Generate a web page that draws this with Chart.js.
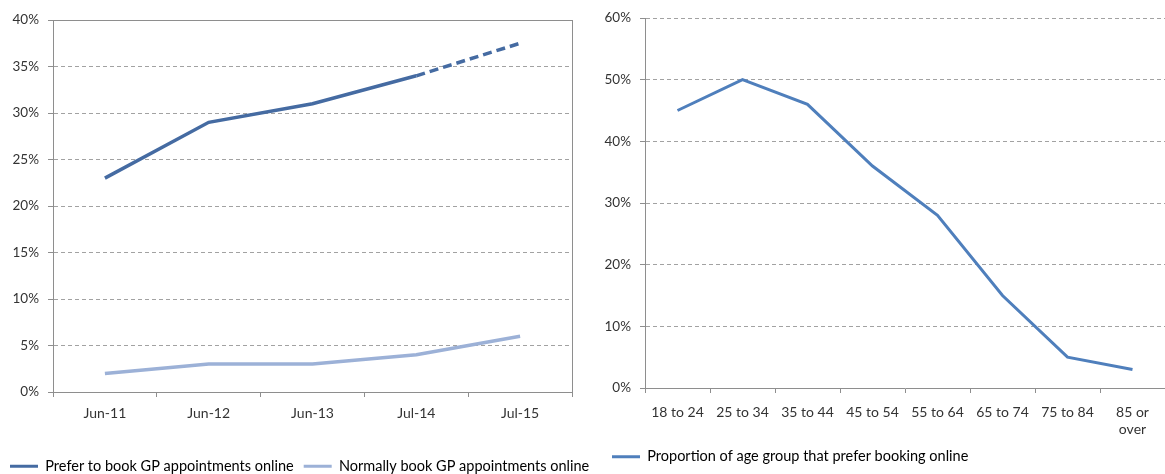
<!DOCTYPE html>
<html>
<head>
<meta charset="utf-8">
<script src="https://cdn.jsdelivr.net/npm/chart.js@4"></script>
<style>
  html, body { margin: 0; padding: 0; background: #fff; overflow: hidden; width: 1165px; height: 474px; }
  #trend { position: absolute; left: 0; top: 0; }
  #age { position: absolute; left: 585px; top: 0; }
</style>
</head>
<body>
<canvas id="trend" width="620" height="484"></canvas>
<canvas id="age" width="580" height="474"></canvas>
<script>
// Survey periods and shares of patients (percent)
const periods = ['Jun-11', 'Jun-12', 'Jun-13', 'Jul-14', 'Jul-15'];
const preferOnline = [23, 29, 31, 34, 37.5];
const normallyOnline = [2, 3, 3, 4, 6];
const trendTicks = [0, 5, 10, 15, 20, 25, 30, 35, 40];
// the final period of the "prefer" series is a projection (dashed)
const projectedFrom = 3;

// Share of each age group preferring to book online (percent)
const ageGroups = ['18 to 24', '25 to 34', '35 to 44', '45 to 54', '55 to 64', '65 to 74', '75 to 84', ['85 or', 'over']];
const agePreferOnline = [45, 50, 46, 36, 28, 15, 5, 3];
const ageTicks = [0, 10, 20, 30, 40, 50, 60];

const axisGray = '#8e8e8e';
const gridGray = '#a2a2a2';
const textColor = '#333333';

Chart.defaults.font.family = 'Lato, "Open Sans", sans-serif';
Chart.defaults.font.size = 13.5;
Chart.defaults.color = textColor;
Chart.defaults.animation = false;

const transparent = 'rgba(0,0,0,0)';

function lineLegend(padding) {
  return {
    display: true,
    position: 'bottom',
    align: 'start',
    labels: {
      boxWidth: 28,
      boxHeight: 3,
      padding: padding,
      color: textColor,
      font: { size: 14.5 },
      generateLabels(chart) {
        return chart.data.datasets.map((ds, i) => ({
          text: ds.label,
          fillStyle: ds.borderColor,
          strokeStyle: transparent,
          lineWidth: 0,
          hidden: false,
          datasetIndex: i
        }));
      }
    }
  };
}

function valueAxis(ticks, yWidth, topSolid) {
  const top = ticks[ticks.length - 1];
  return {
    type: 'linear',
    min: ticks[0],
    max: top,
    afterBuildTicks(scale) { scale.ticks = ticks.map(v => ({ value: v })); },
    afterFit(scale) { scale.width = yWidth; },
    ticks: {
      padding: 9,
      callback: v => v + '%',
      color: textColor,
      font: { size: 13.5 }
    },
    grid: {
      color: c => (c.tick && c.tick.value === 0) ? transparent
        : (topSolid && c.tick && c.tick.value === top ? axisGray : gridGray),
      tickColor: axisGray,
      tickLength: 5,
      lineWidth: 1
    },
    border: {
      color: axisGray,
      dash: c => (topSolid && c.tick && c.tick.value === top) ? [] : [4, 3]
    }
  };
}

function categoryAxis(xHeight, labelPad) {
  return {
    type: 'category',
    offset: true,
    afterFit(scale) { scale.height = xHeight; },
    ticks: { padding: labelPad, maxRotation: 0, autoSkip: false, color: textColor, font: { size: 14 } },
    grid: {
      offset: true,
      drawOnChartArea: false,
      drawTicks: true,
      tickLength: 5,
      color: axisGray,
      tickColor: axisGray
    },
    border: { color: axisGray }
  };
}

// Trend over time
new Chart(document.getElementById('trend'), {
  type: 'line',
  data: {
    labels: periods,
    datasets: [
      {
        label: 'Prefer to book GP appointments online',
        data: preferOnline,
        borderColor: '#456ba2',
        backgroundColor: '#456ba2',
        borderWidth: 3.5,
        pointRadius: 0,
        tension: 0,
        segment: {
          borderDash: c => c.p0DataIndex >= projectedFrom ? [9, 5] : undefined
        }
      },
      {
        label: 'Normally book GP appointments online',
        data: normallyOnline,
        borderColor: '#9cb1d7',
        backgroundColor: '#9cb1d7',
        borderWidth: 3.5,
        pointRadius: 0,
        tension: 0
      }
    ]
  },
  options: {
    responsive: false,
    layout: { padding: { left: 0, top: 20, right: 0, bottom: 0.5 } },
    plugins: { legend: lineLegend(10), tooltip: { enabled: false } },
    scales: {
      x: categoryAxis(57, 8),
      y: valueAxis(trendTicks, 53, true),
      frame: {
        type: 'linear',
        position: 'right',
        min: 0,
        max: 40,
        afterFit(scale) { scale.width = 48; },
        ticks: { display: false },
        grid: { display: false, drawTicks: false },
        border: { display: true, color: axisGray }
      }
    }
  }
});

// Age breakdown
new Chart(document.getElementById('age'), {
  type: 'line',
  data: {
    labels: ageGroups,
    datasets: [
      {
        label: 'Proportion of age group that prefer booking online',
        data: agePreferOnline,
        borderColor: '#4f7fbc',
        backgroundColor: '#4f7fbc',
        borderWidth: 3,
        pointRadius: 0,
        tension: 0
      }
    ]
  },
  options: {
    responsive: false,
    layout: { padding: { left: 17, top: 18, right: 0, bottom: 0 } },
    plugins: { legend: lineLegend(10), tooltip: { enabled: false } },
    scales: {
      x: categoryAxis(51.5, 11),
      y: valueAxis(ageTicks, 43, false)
    }
  }
});
</script>
</body>
</html>
